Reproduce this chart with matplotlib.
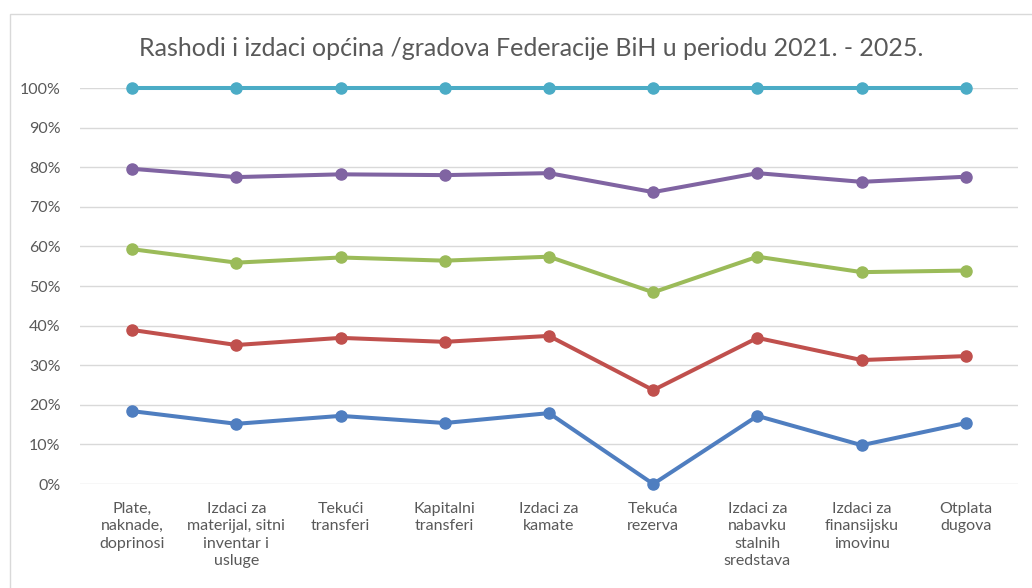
import matplotlib.pyplot as plt
from matplotlib.patches import Rectangle
import numpy as np

# categories (x axis)
categories = ['Plate,\nnaknade,\ndoprinosi', 'Izdaci za\nmaterijal, sitni\ninventar i\nusluge',
              'Tekući\ntransferi', 'Kapitalni\ntransferi', 'Izdaci za\nkamate', 'Tekuća\nrezerva',
              'Izdaci za\nnabavku\nstalnih\nsredstava', 'Izdaci za\nfinansijsku\nimovinu', 'Otplata\ndugova']

# 100% stacked line values (cumulative share, %)
y2021 = [18.4, 15.2, 17.2, 15.4, 17.9, 0.0, 17.2, 9.8, 15.4]
y2022 = [38.9, 35.1, 36.9, 35.9, 37.4, 23.7, 36.9, 31.3, 32.3]
y2023 = [59.3, 55.9, 57.2, 56.4, 57.4, 48.4, 57.4, 53.5, 53.9]
y2024 = [79.6, 77.5, 78.2, 78.0, 78.5, 73.7, 78.5, 76.3, 77.6]
y2025 = [100, 100, 100, 100, 100, 100, 100, 100, 100]

series = [y2021, y2022, y2023, y2024, y2025]
colors = ['#4F7EC0', '#C0504D', '#9BBB59', '#8064A2', '#4BACC6']

plt.rcParams['font.family'] = ['Lato', 'DejaVu Sans']

fig = plt.figure(figsize=(10.32, 5.88), dpi=100)
ax = fig.add_axes([80 / 1032, 1 - 484 / 588, 938 / 1032, 396 / 588])

x = np.arange(len(categories))
for vals, c in zip(series, colors):
    ax.plot(x, np.array(vals) / 100, color=c, lw=2.9, marker='o', ms=8,
            clip_on=False, solid_joinstyle='round', zorder=3)

ax.set_xlim(-0.5, len(categories) - 0.5)
ax.set_ylim(0, 1)
ax.set_yticks(np.arange(0, 1.01, 0.1))
ax.set_yticklabels([f'{int(round(v * 100))}%' for v in np.arange(0, 1.01, 0.1)])
ax.set_xticks(x)
ax.set_xticklabels(categories, linespacing=1.3)
ax.grid(axis='y', color='#D9D9D9', lw=1)
ax.set_axisbelow(True)
for s in ax.spines.values():
    s.set_visible(False)
ax.tick_params(length=0, colors='#595959', labelsize=11.5)
ax.tick_params(axis='x', pad=13)
ax.tick_params(axis='y', pad=14)

fig.text(0.515, 1 - 48 / 588, 'Rashodi i izdaci općina /gradova Federacije BiH u periodu 2021. - 2025.',
         ha='center', va='center', fontsize=18, color='#595959')

# chart frame
fig.patches.append(Rectangle((10 / 1032, -0.05), 1.2, 1 - 14 / 588 + 0.05,
                             transform=fig.transFigure, fill=False, ec='#D9D9D9', lw=1))

fig.savefig('out.png', dpi=100)
